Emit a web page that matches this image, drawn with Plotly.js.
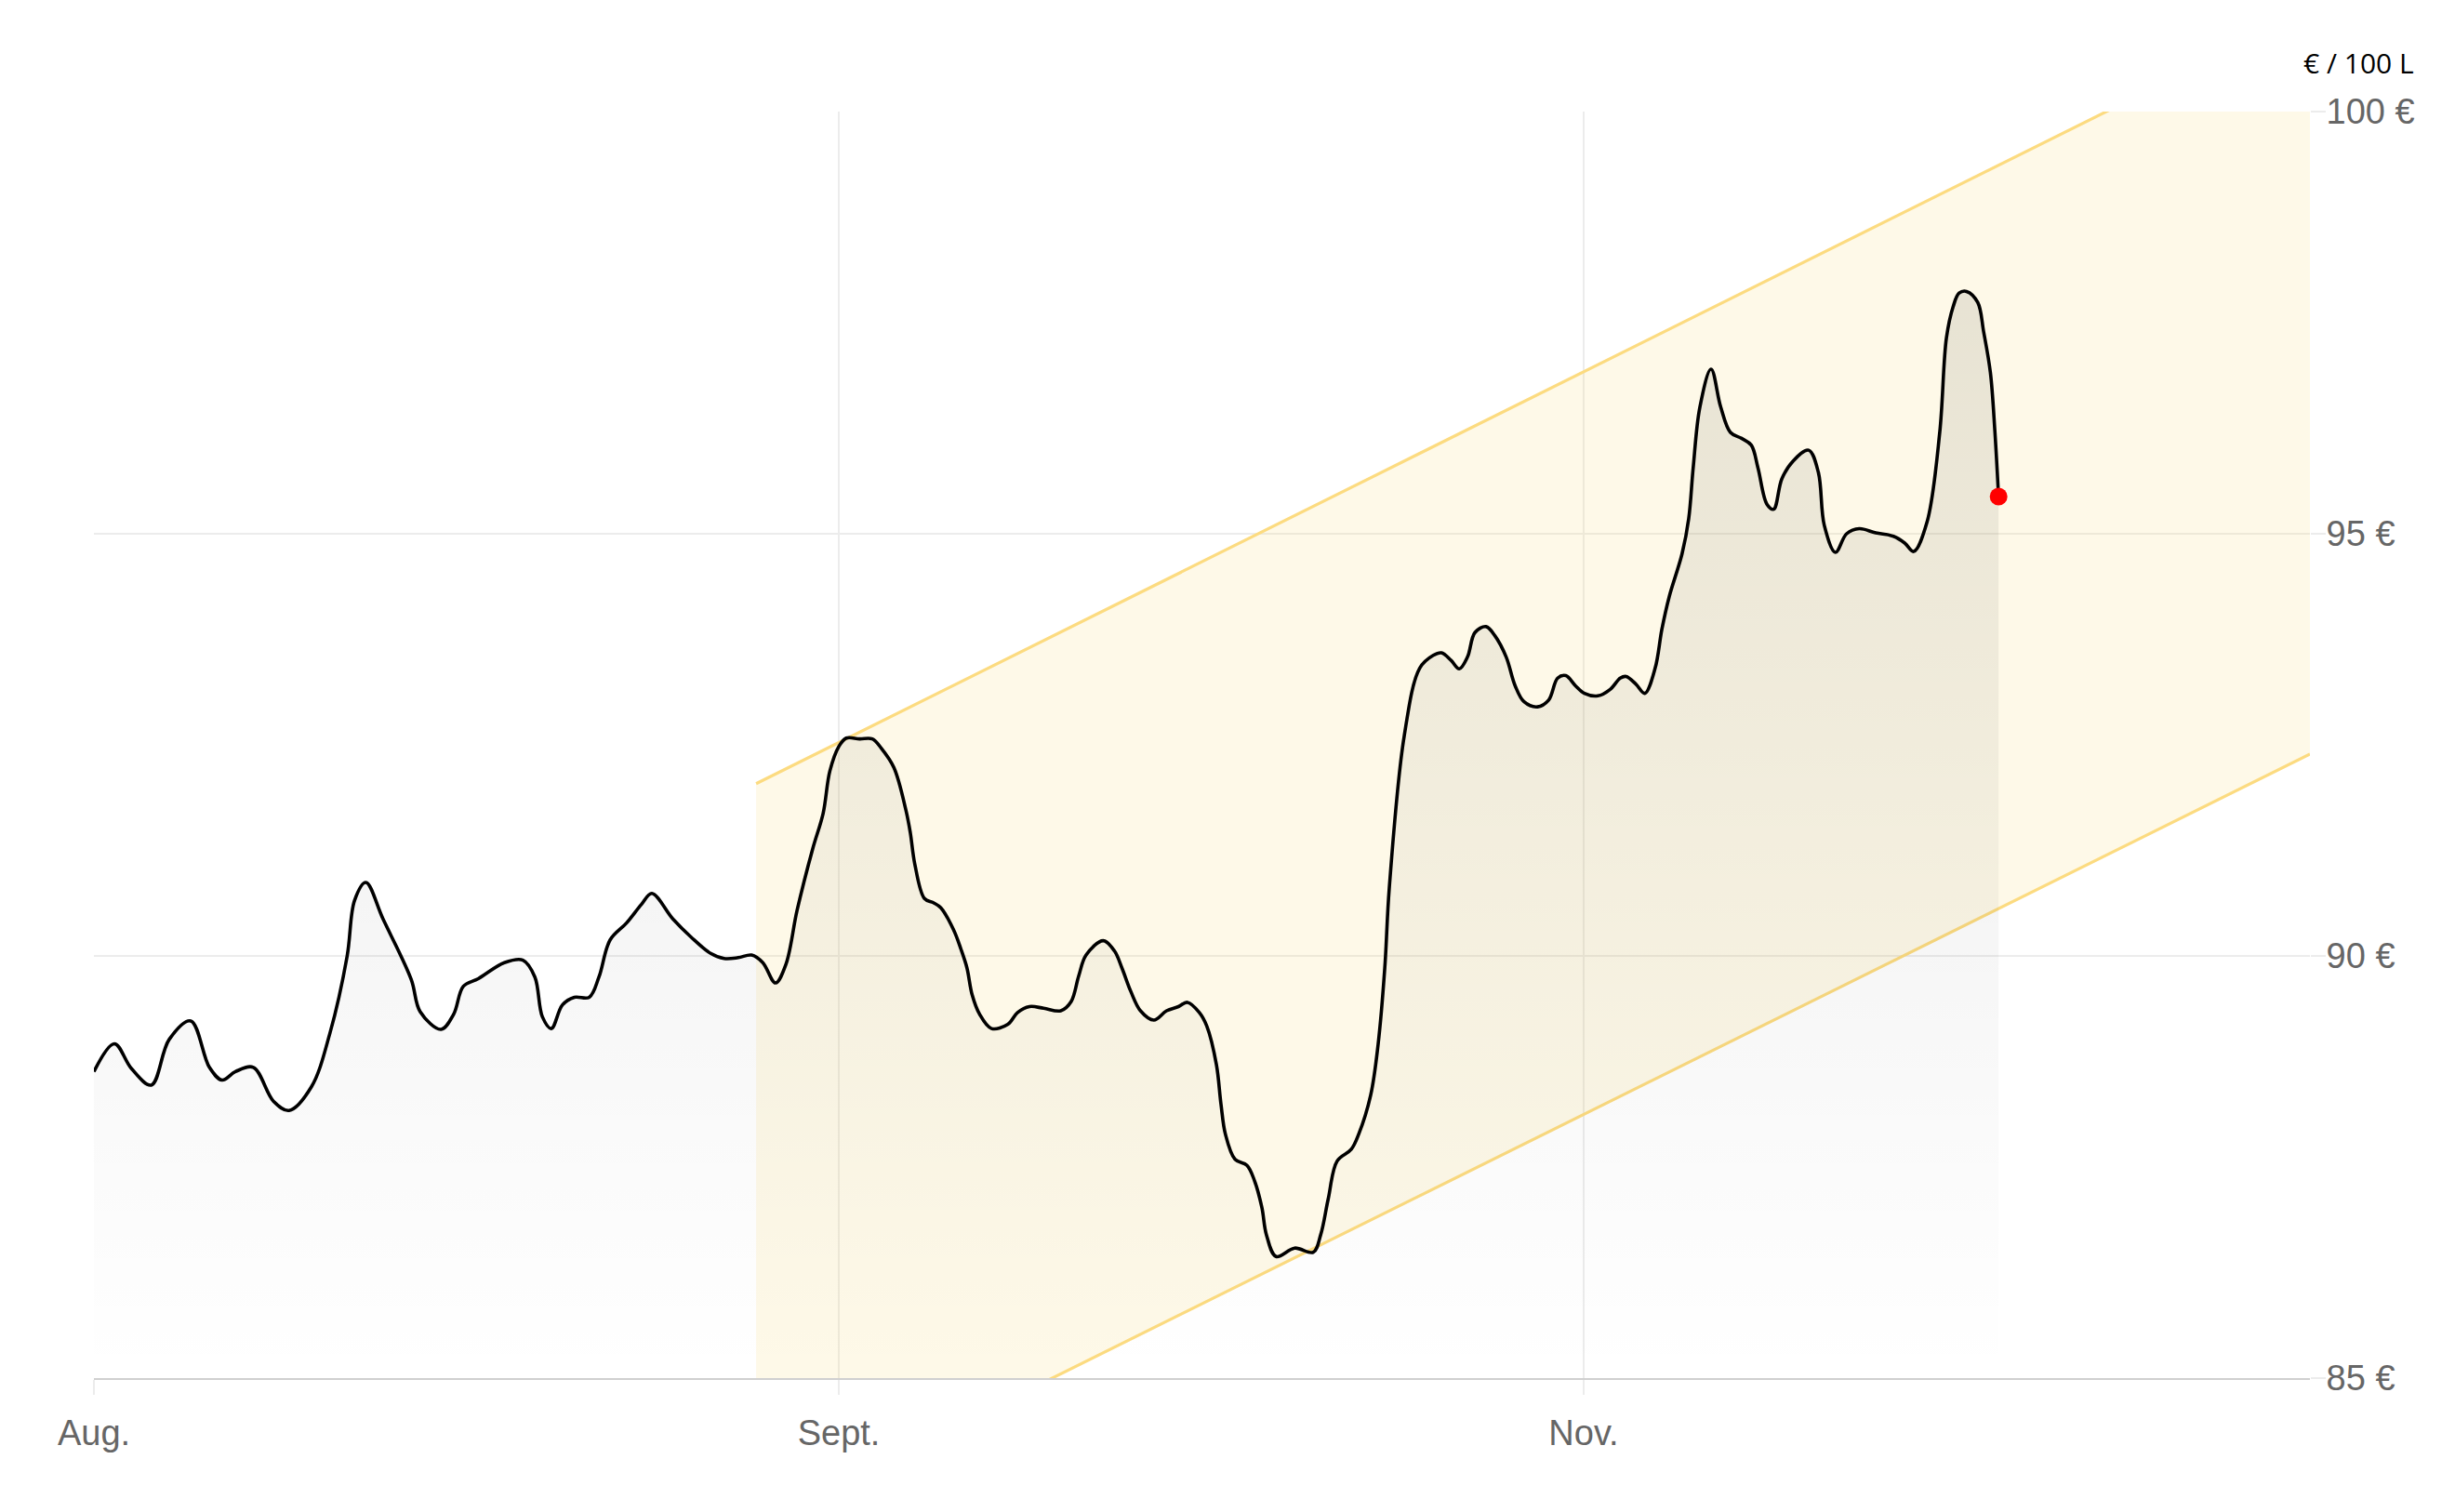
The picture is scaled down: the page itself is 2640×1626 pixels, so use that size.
<!DOCTYPE html>
<html>
<head>
<meta charset="utf-8">
<script src="https://cdn.plot.ly/plotly-3.0.1.min.js"></script>
<style>
  html, body { margin: 0; padding: 0; background: #ffffff; }
  #chart { width: 2640px; height: 1626px; }
</style>
</head>
<body>
<div id="chart"></div>
<script>
// ---- Data ----
// x: time position where Aug. = 0, Sept. = 100, Nov. = 200
const priceX = [
  0, 2.75, 5.0, 7.7, 10.1, 13.0, 15.5, 17.2, 19.0, 21.4, 24.1, 26.2, 29.2, 31.7, 34.0, 35.0, 36.5, 38.8,
  42.6, 43.8, 46.6, 48.3, 49.6, 51.6, 55.1, 57.6, 59.2, 60.2, 61.4, 62.9, 64.5, 66.5, 67.8, 69.3, 71.5,
  73.5, 74.9, 77.7, 80.2, 82.8, 84.6, 86.5, 88.3, 89.8, 91.5, 92.9, 94.4, 96.5, 97.9, 98.8, 100.0, 101.0,
  102.8, 104.5, 105.7, 107.4, 109.0, 109.6, 110.2, 111.5, 112.7, 113.7, 115.4, 116.4, 117.2, 117.9, 118.9,
  120.5, 122.7, 124.0, 125.6, 127.5, 129.8, 131.2, 132.2, 133.2, 135.5, 137.0, 138.0, 139.2, 140.5, 142.3,
  144.0, 145.6, 146.8, 148.4, 149.4, 150.7, 151.3, 151.9, 153.2, 154.8, 155.8, 156.8, 157.4, 158.7, 161.2,
  163.7, 164.7, 165.7, 166.9, 168.8, 169.8, 171.4, 172.4, 173.3, 173.9, 175.9, 178.0, 179.8, 180.9, 182.2,
  183.3, 184.4, 185.4, 186.9, 188.1, 189.6, 190.8, 192.0, 193.8, 195.3, 196.5, 197.6, 198.9, 200.1, 201.9,
  203.6, 204.9, 205.7, 207.0, 208.2, 209.6, 210.5, 211.5, 213.2, 214.1, 214.7, 215.6, 217.1, 218.4, 219.7,
  221.2, 222.5, 223.4, 224.6, 225.5, 226.6, 228.1, 230.2, 231.5, 232.3, 233.8, 235.3, 237.0, 239.2, 241.6,
  243.1, 244.3, 246.1, 247.8, 248.7, 249.6, 250.4, 251.4, 252.9, 253.7, 254.6, 255.2, 255.7
];
const priceY = [
  88.63, 88.96, 88.67, 88.47, 89.01, 89.23, 88.68, 88.53, 88.63, 88.68, 88.28, 88.17, 88.45, 89.09, 90.00, 90.66, 90.87, 90.44,
  89.72, 89.34, 89.13, 89.31, 89.64, 89.73, 89.92, 89.95, 89.75, 89.28, 89.14, 89.42, 89.51, 89.51, 89.75, 90.19, 90.39,
  90.61, 90.74, 90.44, 90.22, 90.03, 89.97, 89.98, 90.01, 89.92, 89.68, 89.90, 90.54, 91.27, 91.69, 92.19, 92.48, 92.58,
  92.57, 92.57, 92.46, 92.23, 91.73, 91.46, 91.09, 90.68, 90.63, 90.57, 90.31, 90.08, 89.86, 89.54, 89.31,
  89.14, 89.19, 89.33, 89.40, 89.38, 89.35, 89.46, 89.76, 90.01, 90.18, 90.06, 89.86, 89.58, 89.35, 89.24,
  89.35, 89.40, 89.45, 89.33, 89.17, 88.71, 88.25, 87.89, 87.59, 87.52, 87.34, 87.02, 86.70, 86.44, 86.54,
  86.49, 86.70, 87.12, 87.57, 87.71, 87.89, 88.35, 88.95, 89.86, 90.80, 92.60, 93.41, 93.56, 93.59, 93.50,
  93.40, 93.54, 93.83, 93.90, 93.79, 93.54, 93.20, 93.01, 92.95, 93.03, 93.29, 93.32, 93.20, 93.11, 93.08,
  93.16, 93.29, 93.31, 93.22, 93.11, 93.41, 93.87, 94.26, 94.76, 95.18, 95.78, 96.50, 96.95, 96.50, 96.20,
  96.13, 96.05, 95.78, 95.35, 95.29, 95.65, 95.86, 95.99, 95.73, 95.10, 94.78, 95.00, 95.06, 95.01, 94.97,
  94.89, 94.79, 95.14, 96.20, 97.32, 97.69, 97.85, 97.87, 97.74, 97.39, 96.91, 96.22, 95.44
];

// Trend channel (start and end of the band)
const bandX = [88.9, 297.5];
const bandUpper = [92.04, 101.20];
const bandLower = [83.26, 92.39];

// Axis ticks
const xTickVals = [0, 100, 200];
const xTickText = ["Aug.", "Sept.", "Nov."];
const yTickVals = [85, 90, 95, 100];
const yTickText = ["85 €", "90 €", "95 €", "100 €"];
const unitLabel = "€ / 100 L";

// ---- Chart ----
const gridColor = "#ececec";
const tickFont = { family: "Liberation Sans, Arial, sans-serif", size: 38, color: "#666666" };

const traces = [
  {
    x: bandX, y: bandLower, type: "scatter", mode: "lines",
    line: { color: "#fcdb80", width: 3.2 },
    hoverinfo: "skip", showlegend: false
  },
  {
    x: bandX, y: bandUpper, type: "scatter", mode: "lines",
    line: { color: "#fcdb80", width: 3.2 },
    fill: "tonexty", fillcolor: "rgba(250,225,140,0.2)",
    hoverinfo: "skip", showlegend: false
  },
  {
    x: priceX, y: priceY, type: "scatter", mode: "lines",
    line: { color: "#000000", width: 3.6, shape: "spline", smoothing: 1 },
    fill: "tozeroy",
    fillgradient: {
      type: "vertical", start: 85, stop: 98,
      colorscale: [[0, "rgba(0,0,0,0)"], [1, "rgba(0,0,0,0.09)"]]
    },
    hoverinfo: "skip", showlegend: false
  },
  {
    x: [priceX[priceX.length - 1]], y: [priceY[priceY.length - 1]],
    type: "scatter", mode: "markers",
    marker: { color: "#ff0000", size: 19 },
    hoverinfo: "skip", showlegend: false
  }
];

const layout = {
  width: 2640, height: 1626,
  margin: { l: 101, r: 156, t: 120, b: 144, pad: 0 },
  paper_bgcolor: "#ffffff", plot_bgcolor: "#ffffff",
  showlegend: false,
  xaxis: {
    range: [0, 297.5],
    tickmode: "array", tickvals: xTickVals, ticktext: xTickText,
    showgrid: true, gridcolor: gridColor, gridwidth: 1.5,
    ticks: "outside", ticklen: 16, tickcolor: gridColor, tickwidth: 1.5,
    showline: true, linecolor: "#d0d0d0", linewidth: 2,
    zeroline: false, tickfont: tickFont, ticklabelstandoff: 8
  },
  yaxis: {
    range: [85, 100], side: "right",
    tickmode: "array", tickvals: yTickVals, ticktext: yTickText,
    showgrid: true, gridcolor: gridColor, gridwidth: 1.5,
    ticks: "outside", ticklen: 16, tickcolor: gridColor, tickwidth: 1.5,
    showline: false, zeroline: false, tickfont: tickFont, ticklabelstandoff: -7
  },
  annotations: [
    {
      text: unitLabel, xref: "paper", yref: "paper",
      x: 1.0478, y: 1.0389, xanchor: "right", yanchor: "middle",
      showarrow: false,
      font: { family: "Open Sans, Noto Sans, sans-serif", size: 30, color: "#000000" }
    }
  ]
};

Plotly.newPlot("chart", traces, layout, { staticPlot: true, displayModeBar: false });
</script>
</body>
</html>
